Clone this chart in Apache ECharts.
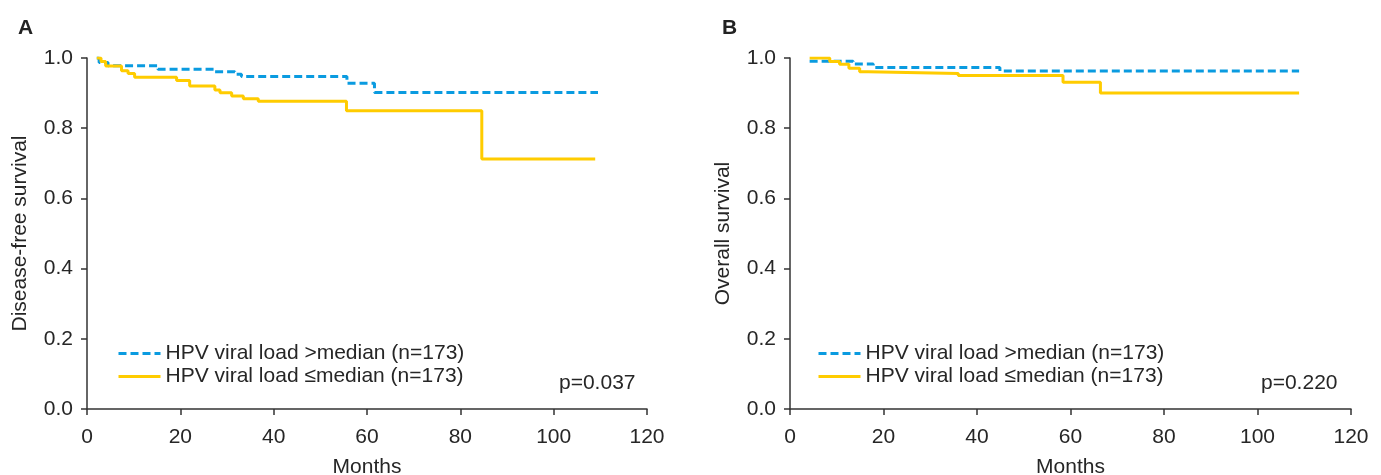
<!DOCTYPE html>
<html>
<head>
<meta charset="utf-8">
<script src="https://cdn.jsdelivr.net/npm/echarts@6/dist/echarts.min.js"></script>
<style>
  html, body { margin: 0; padding: 0; background: #fff; }
  #chart { width: 1381px; height: 475px; }
</style>
</head>
<body>
<div id="chart"></div>
<script>
// ticks
var xTicks = [0, 20, 40, 60, 80, 100, 120];
var yTicks = [0.0, 0.2, 0.4, 0.6, 0.8, 1.0];

var legendNames = ['HPV viral load >median (n=173)', 'HPV viral load \u2264median (n=173)'];

// panel A - disease-free survival
var dfsHighTime = [2.1, 2.6, 4.5, 15.2, 27.4, 31.7, 33.1, 55.7, 61.6, 109.5];
var dfsHighSurv = [1.0, 0.987, 0.978, 0.968, 0.961, 0.954, 0.947, 0.928, 0.902, 0.902];
var dfsLowTime = [2.1, 3.0, 4.0, 7.4, 8.8, 10.2, 19.2, 22.0, 27.4, 28.5, 31.0, 33.5, 36.7, 55.6, 84.6, 108.9];
var dfsLowSurv = [1.0, 0.99, 0.977, 0.964, 0.956, 0.945, 0.936, 0.920, 0.909, 0.901, 0.892, 0.884, 0.877, 0.850, 0.712, 0.712];

// panel B - overall survival
var osHighTime = [4.2, 13.5, 17.8, 44.9, 108.9];
var osHighSurv = [0.991, 0.983, 0.973, 0.963, 0.963];
var osLowTime = [4.2, 8.5, 10.6, 12.6, 14.9, 16.7, 36.0, 58.4, 66.4, 108.9];
var osLowSurv = [1.0, 0.990, 0.982, 0.971, 0.961, 0.956, 0.950, 0.931, 0.900, 0.900];

var pA = 'p=0.037';
var pB = 'p=0.220';

var FONT = 'Liberation Sans';
var BLUE = '#0a9be0';
var YELLOW = '#ffcc00';
var AXIS = '#333';
var TEXT = '#262626';

function pairs(t, s) {
    var res = [];
    for (var i = 0; i < t.length; i++) {
        res.push([t[i], s[i]]);
    }
    return res;
}

function xAxisFor(gi) {
    return {
        gridIndex: gi,
        type: 'value',
        min: 0, max: 120, interval: 20,
        name: 'Months',
        nameLocation: 'middle',
        nameGap: 48,
        nameTextStyle: { fontFamily: FONT, fontSize: 21, color: TEXT },
        axisLine: { show: true, lineStyle: { color: AXIS, width: 1.5 } },
        axisTick: { show: true, length: 6, lineStyle: { color: AXIS, width: 1.5 } },
        axisLabel: { fontFamily: FONT, fontSize: 21, color: TEXT, margin: 18,
            formatter: function (v) { return xTicks.indexOf(v) >= 0 ? String(v) : ''; } },
        splitLine: { show: false }
    };
}

function yAxisFor(gi, name) {
    return {
        gridIndex: gi,
        type: 'value',
        min: 0, max: 1, interval: 0.2,
        name: name,
        nameLocation: 'middle',
        nameGap: 56,
        nameTextStyle: { fontFamily: FONT, fontSize: 21, color: TEXT },
        axisLine: { show: true, lineStyle: { color: AXIS, width: 1.5 } },
        axisTick: { show: true, length: 6, lineStyle: { color: AXIS, width: 1.5 } },
        axisLabel: { fontFamily: FONT, fontSize: 21, color: TEXT, margin: 14,
            formatter: function (v) { return v.toFixed(1); } },
        splitLine: { show: false }
    };
}

function km(name, gi, t, s, color, dashed) {
    return {
        name: name,
        type: 'line',
        xAxisIndex: gi,
        yAxisIndex: gi,
        step: 'end',
        symbol: 'none',
        data: pairs(t, s),
        lineStyle: { color: color, width: 3, type: dashed ? [8, 4] : 'solid' },
        itemStyle: { color: color },
        silent: true,
        animation: false
    };
}

function legendAt(left) {
    return {
        orient: 'vertical',
        left: left,
        top: 338,
        itemWidth: 42,
        itemHeight: 14,
        itemGap: 2,
        data: legendNames,
        selectedMode: false,
        itemStyle: { opacity: 0 },
        lineStyle: { width: 3 },
        textStyle: { fontFamily: FONT, fontSize: 21, color: TEXT }
    };
}

var chart = echarts.init(document.getElementById('chart'));
var option = {
    backgroundColor: '#fff',
    animation: false,
    title: [
        { text: 'A', left: 13, top: 13, textStyle: { fontFamily: FONT, fontSize: 21, fontWeight: 'bold', color: '#222' } },
        { text: 'B', left: 717, top: 13, textStyle: { fontFamily: FONT, fontSize: 21, fontWeight: 'bold', color: '#222' } }
    ],
    grid: [
        { left: 87, right: 734, top: 58, bottom: 66, outerBoundsMode: 'none', containLabel: false },
        { left: 790, right: 30, top: 58, bottom: 66, outerBoundsMode: 'none', containLabel: false }
    ],
    xAxis: [xAxisFor(0), xAxisFor(1)],
    yAxis: [yAxisFor(0, 'Disease-free survival'), yAxisFor(1, 'Overall survival')],
    legend: [legendAt(112), legendAt(812)],
    graphic: [
        { type: 'text', left: 559, top: 373, style: { text: pA, fontFamily: FONT, fontSize: 21, fill: TEXT } },
        { type: 'text', left: 1261, top: 373, style: { text: pB, fontFamily: FONT, fontSize: 21, fill: TEXT } }
    ],
    series: [
        km(legendNames[0], 0, dfsHighTime, dfsHighSurv, BLUE, true),
        km(legendNames[1], 0, dfsLowTime, dfsLowSurv, YELLOW, false),
        km(legendNames[0], 1, osHighTime, osHighSurv, BLUE, true),
        km(legendNames[1], 1, osLowTime, osLowSurv, YELLOW, false)
    ]
};
chart.setOption(option);
</script>
</body>
</html>
